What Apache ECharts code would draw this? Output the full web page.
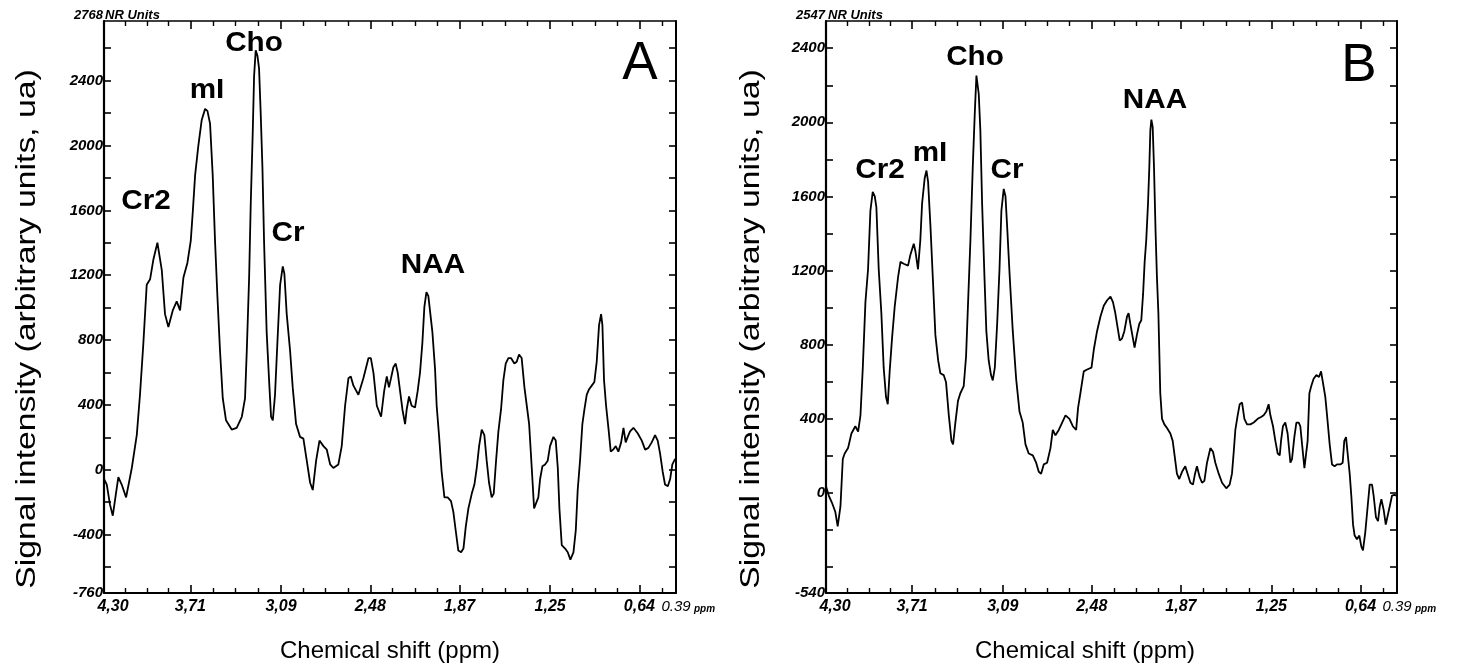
<!DOCTYPE html>
<html><head><meta charset="utf-8">
<script src="https://cdn.jsdelivr.net/npm/echarts@6.0.0/dist/echarts.min.js"></script>
<style>html,body{margin:0;padding:0;background:#fff}#c{width:1457px;height:670px}</style>
</head><body><div id="c"></div>
<script>
// ---- Data: panel A ----
const ppmA=[4.300,4.281,4.259,4.240,4.222,4.202,4.179,4.149,4.110,4.076,4.054,4.031,4.008,3.985,3.962,3.935,3.905,3.883,3.860,3.830,3.803,3.780,3.757,3.730,3.707,3.693,3.677,3.655,3.632,3.609,3.593,3.575,3.557,3.541,3.525,3.507,3.488,3.466,3.427,3.393,3.358,3.336,3.324,3.308,3.297,3.283,3.274,3.263,3.251,3.240,3.229,3.217,3.206,3.188,3.169,3.158,3.146,3.131,3.115,3.096,3.078,3.067,3.051,3.028,3.010,2.987,2.960,2.937,2.914,2.891,2.873,2.850,2.827,2.800,2.777,2.754,2.732,2.698,2.675,2.652,2.629,2.613,2.595,2.561,2.527,2.492,2.476,2.458,2.435,2.406,2.385,2.367,
2.352,2.338,2.322,2.306,2.292,2.276,2.260,2.242,2.231,2.215,2.197,2.174,2.156,2.140,2.124,2.110,2.096,2.083,2.069,2.055,2.037,2.026,2.010,1.992,1.973,1.951,1.928,1.912,1.896,1.878,1.859,1.843,1.827,1.809,1.786,1.768,1.752,1.736,1.718,1.700,1.684,1.668,1.650,1.636,1.620,1.604,1.586,1.570,1.554,1.536,1.518,1.495,1.479,1.463,1.445,1.426,1.410,1.394,1.376,1.360,1.347,1.331,1.319,1.303,1.285,1.267,1.251,1.228,1.212,1.198,1.187,1.171,1.148,1.130,1.112,1.091,1.075,1.062,1.046,1.030,1.016,1.000,0.984,0.966,0.948,0.932,0.916,0.902,0.893,0.882,0.868,0.852,0.836,0.820,0.802,0.784,0.765,0.749,0.734,0.720,0.704,0.681,0.652,0.624,0.601,0.579,0.556,0.533,0.515,0.499,0.481,0.465,0.446,0.430,0.415,0.396];
const sigA=[-57,-91,-215,-283,-170,-46,-91,-170,11,214,463,779,1141,1175,1299,1401,1231,960,881,983,1039,983,1186,1276,1412,1593,1819,2000,2158,2226,2214,2135,1819,1412,1073,734,440,305,248,259,327,440,734,1186,1638,2090,2429,2587,2553,2474,2203,1864,1412,847,508,327,305,463,779,1141,1254,1209,960,734,508,282,203,192,56,-80,-125,56,180,146,124,33,11,33,146,395,565,576,519,463,565,689,689,598,395,327,485,576,
508,565,632,655,598,485,372,282,372,452,395,384,485,598,779,1005,1096,1073,960,847,621,395,214,-12,-170,-170,-193,-260,-373,-498,-509,-486,-351,-238,-147,-91,11,146,248,214,56,-80,-170,-147,56,237,372,553,655,689,689,655,666,711,689,508,395,282,11,-238,-238,-170,-57,22,33,56,146,203,180,11,-238,-464,-486,-509,-554,-509,-373,-125,56,282,372,463,497,519,542,666,892,960,892,553,395,259,112,124,146,112,169,259,169,203,237,259,225,180,124,135,169,214,180,101,-12,-91,-102,-57,33,67];
// ---- Data: panel B ----
const ppmB=[4.304,4.281,4.259,4.236,4.220,4.201,4.185,4.172,4.149,4.126,4.099,4.080,4.064,4.048,4.030,4.012,3.996,3.980,3.966,3.955,3.939,3.921,3.905,3.889,3.877,3.864,3.848,3.829,3.806,3.790,3.768,3.738,3.722,3.699,3.688,3.670,3.654,3.642,3.624,3.612,3.601,3.585,3.569,3.551,3.532,3.517,3.494,3.478,3.459,3.441,3.430,3.414,3.396,3.380,3.357,3.341,3.327,3.311,3.295,3.281,3.270,3.263,3.254,3.243,3.231,3.215,3.202,3.186,3.170,3.158,3.144,3.128,3.112,3.099,3.083,3.071,3.060,3.042,3.021,2.998,2.975,2.953,2.934,2.912,2.884,2.861,2.843,2.827,2.809,2.786,2.763,2.747,2.729,2.706,2.683,2.660,2.633,2.610,2.587,2.574,2.558,2.535,2.512,2.482,2.466,2.444,2.421,2.398,2.375,2.352,
2.335,2.319,2.303,2.289,2.273,2.257,2.239,2.228,2.216,2.198,2.187,2.171,2.155,2.141,2.129,2.118,2.107,2.095,2.086,2.079,2.072,2.063,2.054,2.043,2.034,2.024,2.018,2.011,1.999,1.983,1.965,1.942,1.926,1.913,1.897,1.881,1.862,1.840,1.824,1.805,1.787,1.773,1.760,1.741,1.725,1.709,1.691,1.668,1.650,1.634,1.611,1.588,1.559,1.536,1.520,1.508,1.497,1.481,1.467,1.451,1.435,1.417,1.394,1.371,1.344,1.321,1.303,1.285,1.269,1.257,1.239,1.223,1.207,1.193,1.184,1.171,1.155,1.139,1.120,1.109,1.093,1.079,1.063,1.052,1.040,1.024,1.013,1.002,0.990,0.977,0.961,0.942,0.924,0.910,0.897,0.881,0.869,0.851,0.835,0.817,0.801,0.778,0.762,0.751,0.739,0.728,0.714,0.703,0.691,0.680,0.664,0.648,0.634,0.623,0.607,0.591,0.577,0.561,0.550,0.534,0.520,0.508,0.497,0.481,0.467,0.454,0.440,0.424,0.408,0.394];
const sigB=[45,-14,-53,-103,-181,-73,183,213,242,321,360,331,419,676,1030,1207,1523,1625,1601,1542,1207,971,676,518,479,656,833,1010,1168,1247,1237,1227,1286,1345,1306,1207,1365,1562,1700,1740,1680,1444,1168,853,715,646,636,597,419,281,262,380,498,538,577,735,1030,1365,1759,2054,2252,2261,2153,1956,1562,1168,873,715,636,607,676,912,1207,1523,1641,1601,1444,1168,873,616,439,380,262,213,203,163,114,104,154,163,242,340,311,340,380,419,400,360,340,459,538,656,666,676,774,873,951,1010,1040,1060,
1030,971,892,823,833,873,951,971,912,833,784,853,912,932,1070,1247,1365,1562,1759,1956,2015,1976,1759,1404,1168,971,774,538,400,370,350,321,281,203,104,75,114,144,104,55,45,104,144,85,55,65,163,242,222,163,104,55,25,45,104,222,340,419,479,488,400,370,370,380,400,410,419,439,479,419,360,281,213,203,281,360,380,321,163,183,301,380,380,360,262,134,124,281,538,577,616,636,626,656,666,518,419,262,154,144,154,154,163,281,301,213,104,-14,-171,-230,-250,-230,-290,-310,-211,-73,45,45,-14,-132,-152,-73,-34,-93,-171,-181,-73,-14,-10,-14];
// ---- Axes / labels ----
const xTickValues=[4.30,3.71,3.09,2.48,1.87,1.25,0.64,0.39];
const xTickLabels=['4,30','3,71','3,09','2,48','1,87','1,25','0,64','0.39'];
const yLabelsA=[2400,2000,1600,1200,800,400,0,-400,-760];
const yLabelsB=[2400,2000,1600,1200,800,400,0,-540];
const rangeA=[-760,2768];
const rangeB=[-540,2547];
const peakNames=['Cr2','mI','Cho','Cr','NAA'];
const panelNames=['A','B'];
const yTitle='Signal intensity (arbitrary units, ua)';
const xTitle='Chemical shift (ppm)';
const unitText='NR Units';

// ---- layout ----
const grids=[{left:104,top:21,width:572,height:572},{left:826,top:21,width:571,height:572}];
const peakPosA=[[146,202],[207,91],[254,44],[288,234],[433,266]];
const peakPosB=[[880,171],[930,154],[975,58],[1007,171],[1155,101]];
const FONT='"Liberation Sans", Arial, sans-serif';

function minorX(){
  const out=[];
  for(let i=0;i<6;i++){const a=xTickValues[i],b=xTickValues[i+1];for(let k=1;k<4;k++)out.push(a+(b-a)*k/4);}
  out.push(0.64-(3.71-0.64)/20);
  return out;
}
function yTicks(r){const out=[];for(let v=Math.ceil(r[0]/200)*200;v<r[1];v+=200){if(v>r[0])out.push(v);}return out;}
const tickFont={color:'#000',fontFamily:FONT,fontStyle:'italic',fontWeight:'bold',fontSize:15};
const xTickFont=Object.assign({},tickFont,{fontSize:16});

const xAxes=[],yAxes=[],series=[];
[[ppmA,sigA,rangeA,yLabelsA],[ppmB,sigB,rangeB,yLabelsB]].forEach(([px,py,rng,yl],g)=>{
  const base={gridIndex:g,type:'value',inverse:true,min:0.39,max:4.30,splitLine:{show:false}};
  const xi=xAxes.length;
  xAxes.push(Object.assign({},base,{position:'bottom',
    axisLine:{show:true,onZero:false,lineStyle:{color:'#000',width:2}},
    axisTick:{show:true,inside:true,length:8,lineStyle:{color:'#000',width:1.6},customValues:xTickValues},
    axisLabel:Object.assign({show:true,margin:6,customValues:xTickValues,
      formatter:function(v){const i=xTickValues.findIndex(t=>Math.abs(t-v)<1e-6);const s=xTickLabels[i];
        if(i===0)return '{f|'+s+'}';if(i===xTickValues.length-1)return '{t|'+s+'}';return s;},
      rich:{f:Object.assign({},xTickFont,{padding:[0,0,0,18]}),t:Object.assign({},xTickFont,{fontWeight:'normal',fontSize:15})}},xTickFont)}));
  xAxes.push(Object.assign({},base,{position:'bottom',axisLine:{show:false,onZero:false},
    axisTick:{show:true,inside:true,length:5,lineStyle:{color:'#000',width:1.4},customValues:minorX()},axisLabel:{show:false}}));
  xAxes.push(Object.assign({},base,{position:'top',axisLine:{show:true,onZero:false,lineStyle:{color:'#000',width:1.6}},
    axisTick:{show:true,inside:true,length:8,lineStyle:{color:'#000',width:1.6},customValues:xTickValues},axisLabel:{show:false}}));
  xAxes.push(Object.assign({},base,{position:'top',axisLine:{show:false,onZero:false},
    axisTick:{show:true,inside:true,length:5,lineStyle:{color:'#000',width:1.4},customValues:minorX()},axisLabel:{show:false}}));
  const ybase={gridIndex:g,type:'value',min:rng[0],max:rng[1],splitLine:{show:false}};
  const yi=yAxes.length;
  yAxes.push(Object.assign({},ybase,{position:'left',axisLine:{show:true,onZero:false,lineStyle:{color:'#000',width:2.2}},
    axisTick:{show:true,inside:true,length:7,lineStyle:{color:'#000',width:1.6},customValues:yTicks(rng)},
    axisLabel:Object.assign({show:true,margin:1,customValues:yl,formatter:v=>String(v)},tickFont)}));
  yAxes.push(Object.assign({},ybase,{position:'right',axisLine:{show:true,onZero:false,lineStyle:{color:'#000',width:2}},
    axisTick:{show:true,inside:true,length:7,lineStyle:{color:'#000',width:1.6},customValues:yTicks(rng)},axisLabel:{show:false}}));
  const n=Math.min(px.length,py.length);const data=[];for(let i=0;i<n;i++)data.push([px[i],py[i]]);
  series.push({type:'line',xAxisIndex:xi,yAxisIndex:yi,data:data,showSymbol:false,symbol:'none',
    lineStyle:{color:'#000',width:1.8},silent:true,animation:false});
});

const graphic=[];
function txt(text,x,y,font,opts){graphic.push(Object.assign({type:'text',x:x,y:y,silent:true,
  style:{text:text,fill:'#000',font:font,align:'center',verticalAlign:'middle',textAlign:'center',textVerticalAlign:'middle'}},opts||{}));}
function txtA(text,x,y,font,align){graphic.push({type:'text',x:x,y:y,silent:true,
  style:{text:text,fill:'#000',font:font,align:align,verticalAlign:'middle',textAlign:align,textVerticalAlign:'middle'}});}
// y titles
txt(yTitle,28,329,'27px '+FONT,{rotation:Math.PI/2,scaleX:1.25});
txt(yTitle,752,329,'27px '+FONT,{rotation:Math.PI/2,scaleX:1.25});
// x titles
txt(xTitle,390,651,'24px '+FONT);
txt(xTitle,1085,651,'24px '+FONT);
// peak labels
peakNames.forEach((p,i)=>{
  txt(p,peakPosA[i][0],peakPosA[i][1],'bold 27px '+FONT,{scaleX:1.1});
  txt(p,peakPosB[i][0],peakPosB[i][1],'bold 27px '+FONT,{scaleX:1.1});
});
txt(panelNames[0],640,64,'53px '+FONT);
txt(panelNames[1],1359,66,'53px '+FONT);
// top-left max labels
txtA(String(rangeA[1]),103,15,'italic bold 13px '+FONT,'right');
txtA(unitText,105,15,'italic bold 13px '+FONT,'left');
txtA(String(rangeB[1]),825,15,'italic bold 13px '+FONT,'right');
txtA(unitText,828,15,'italic bold 13px '+FONT,'left');
// ppm unit
txtA('ppm',694,609,'italic bold 10px '+FONT,'left');
txtA('ppm',1415,609,'italic bold 10px '+FONT,'left');

const chart=echarts.init(document.getElementById('c'),null,{renderer:'canvas'});
chart.setOption({animation:false,backgroundColor:'#fff',grid:grids,xAxis:xAxes,yAxis:yAxes,series:series,graphic:graphic});
</script></body></html>
